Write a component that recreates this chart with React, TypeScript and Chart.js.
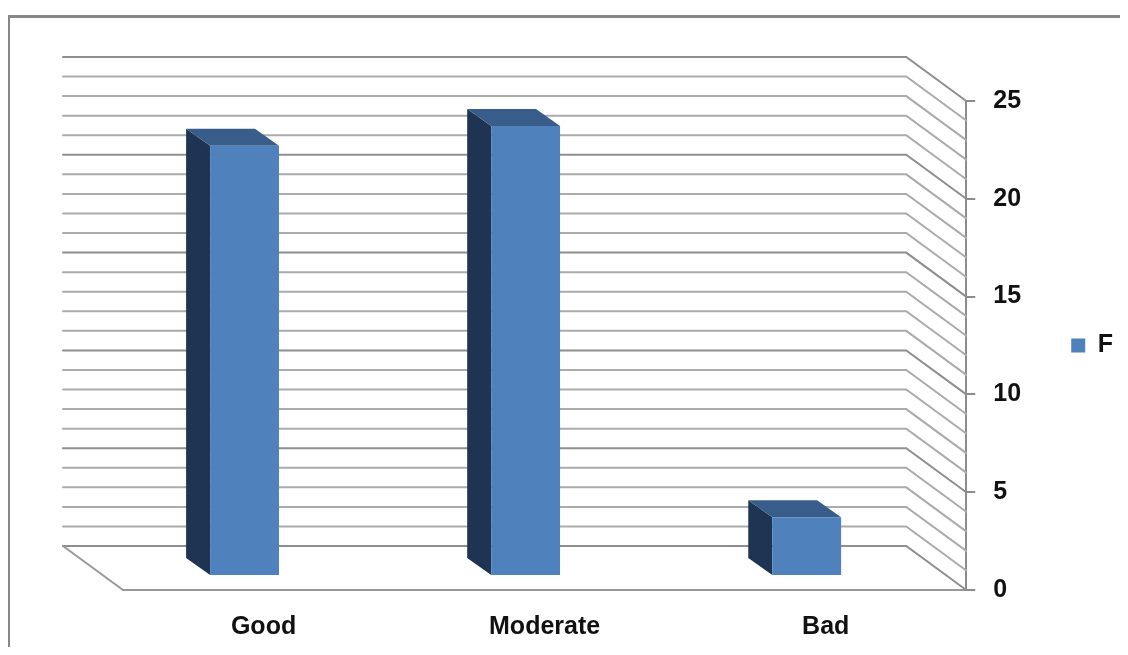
import React, { useEffect, useRef } from "react";
import { Chart, registerables } from "chart.js";

Chart.register(...registerables);

// ---- data ----
const categories = ["Good", "Moderate", "Bad"];
const seriesLabel = "F";
const seriesValues = [22, 23, 3];
const yMin = 0;
const yMax = 25;
const yStep = 5;

// ---- styles ----
const FONT = "'Liberation Sans', Arial, sans-serif";
const FONT_SIZE = 25;
const FRONT = "#4f81bd";
const SIDE = "#1f3452";
const TOPC = "#385d8a";
const WALL_DX = -60;
const WALL_DY = -44;
const BAR_DX = -19;
const BAR_DY = -14;
const DEPTH_DX = -24;
const DEPTH_DY = -17;

const threeD = {
  id: "threeD",
  beforeDatasetsDraw(chart: any) {
    const { ctx, chartArea } = chart;
    const { left, right } = chartArea;
    const ys = chart.scales.y;
    ctx.save();
    ctx.lineCap = "round";
    for (let v = ys.min; v <= ys.max; v += 1) {
      const py = ys.getPixelForValue(v);
      ctx.beginPath();
      ctx.moveTo(left + WALL_DX, py + WALL_DY);
      ctx.lineTo(right + WALL_DX, py + WALL_DY);
      ctx.lineTo(right, py);
      ctx.strokeStyle = v % yStep === 0 ? "#8e8e8e" : "#ababab";
      ctx.lineWidth = 2;
      ctx.stroke();
    }
    const p0 = ys.getPixelForValue(0);
    ctx.beginPath();
    ctx.moveTo(left + WALL_DX, p0 + WALL_DY);
    ctx.lineTo(left, p0);
    ctx.strokeStyle = "#999999";
    ctx.lineWidth = 2;
    ctx.stroke();
    ctx.restore();

    ctx.save();
    ctx.translate(BAR_DX, BAR_DY);
    const meta = chart.getDatasetMeta(0);
    meta.data.forEach((bar: any) => {
      const { x, y, base, width } = bar.getProps(["x", "y", "base", "width"], true);
      const l = x - width / 2;
      const r = x + width / 2;
      ctx.beginPath();
      ctx.moveTo(l, y);
      ctx.lineTo(l + DEPTH_DX, y + DEPTH_DY);
      ctx.lineTo(l + DEPTH_DX, base + DEPTH_DY);
      ctx.lineTo(l, base);
      ctx.closePath();
      ctx.fillStyle = SIDE;
      ctx.fill();
      ctx.beginPath();
      ctx.moveTo(l, y);
      ctx.lineTo(r, y);
      ctx.lineTo(r + DEPTH_DX, y + DEPTH_DY);
      ctx.lineTo(l + DEPTH_DX, y + DEPTH_DY);
      ctx.closePath();
      ctx.fillStyle = TOPC;
      ctx.fill();
    });
  },
  afterDatasetsDraw(chart: any) {
    chart.ctx.restore();
  },
};

export default function App() {
  const ref = useRef<HTMLCanvasElement>(null);
  useEffect(() => {
    if (!ref.current) return;
    const chart = new Chart(ref.current, {
      type: "bar",
      data: {
        labels: categories,
        datasets: [
          {
            label: seriesLabel,
            data: seriesValues,
            backgroundColor: FRONT,
            borderWidth: 0,
            barPercentage: 0.245,
            categoryPercentage: 1,
            clip: false as any,
          },
        ],
      },
      options: {
        responsive: false,
        animation: false,
        devicePixelRatio: 1,
        layout: { padding: { left: 115, top: 93, right: 5, bottom: 0 } },
        plugins: {
          tooltip: { enabled: false },
          legend: {
            position: "right",
            fullSize: false,
            labels: {
              boxWidth: 14,
              boxHeight: 14,
              padding: 10,
              color: "#111",
              font: { family: FONT, size: FONT_SIZE, weight: "bold" },
            },
          },
        },
        scales: {
          x: {
            type: "category",
            grid: { display: true, drawOnChartArea: false, drawTicks: false },
            border: { display: true, color: "#999999", width: 2 },
            ticks: {
              color: "#111",
              padding: 22,
              font: { family: FONT, size: FONT_SIZE, weight: "bold" },
            },
            afterFit: (s: any) => {
              s.height = 65;
            },
          },
          y: {
            position: "right",
            min: yMin,
            max: yMax,
            ticks: {
              stepSize: yStep,
              color: "#111",
              padding: 18,
              font: { family: FONT, size: FONT_SIZE, weight: "bold" },
            },
            grid: {
              drawOnChartArea: false,
              drawTicks: true,
              tickLength: 9,
              color: "#8c8c8c",
              lineWidth: 2,
            },
            border: { display: true, color: "#8c8c8c", width: 2 },
            afterFit: (s: any) => {
              s.width = 95;
            },
          },
        },
      },
      plugins: [threeD],
    });
    return () => chart.destroy();
  }, []);

  return (
    <div style={{ position: "relative", width: 1120, height: 639, overflow: "hidden" }}>
      <div
        style={{
          position: "absolute",
          left: -1,
          top: 7,
          width: 1121,
          height: 632,
          boxSizing: "border-box",
          borderTop: "3px solid #878787",
          borderLeft: "3px solid #878787",
          pointerEvents: "none",
        }}
      />
      <canvas
        ref={ref}
        width={1120}
        height={647}
        style={{ position: "absolute", left: 0, top: 0, width: 1120, height: 647 }}
      />
    </div>
  );
}
